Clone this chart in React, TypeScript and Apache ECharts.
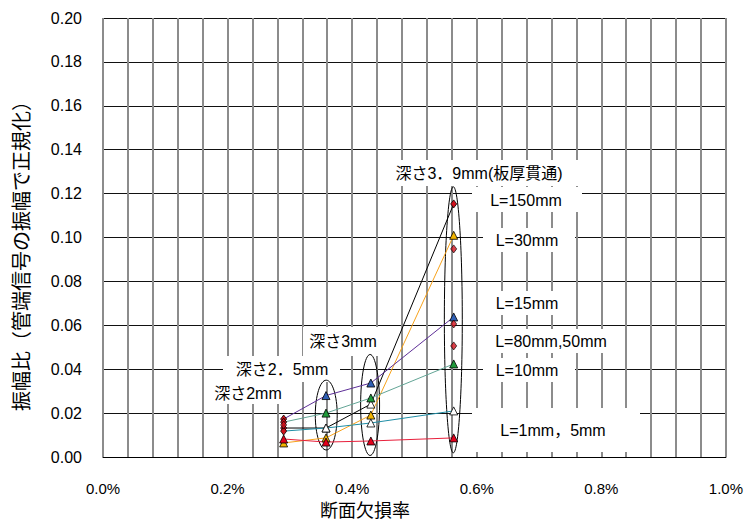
import { useEffect, useRef } from "react";
import * as echarts from "echarts";

// x positions (断面欠損率, %) of the four depth groups
const depthX = [0.29, 0.358, 0.43, 0.563];
// series values (振幅比) per depth group
const l150 = [0.0132, 0.0132, 0.0241, 0.1153];
const l30 = [0.0064, 0.0087, 0.0191, 0.101];
const l15 = [0.0173, 0.028, 0.0337, 0.0638];
const l10 = [0.0159, 0.02, 0.0269, 0.0424];
const l1 = [0.0118, 0.0132, 0.0155, 0.021];
const l5 = [0.0082, 0.0068, 0.0073, 0.0087];
// marker-only points
const extraX = [0.29, 0.563, 0.563, 0.563];
const extraY = [0.0146, 0.0948, 0.0606, 0.0506];
// marker kinds per point
const l150Marks = ["diamond", "white", "white", "diamond"];
const l30Marks = ["orange", "orange", "orange", "orange"];
const l15Marks = ["diamond", "blue", "blue", "blue"];
const l10Marks = ["diamond", "green", "green", "green"];
const l1Marks = ["diamond", "white", "white", "white"];
const l5Marks = ["red", "red", "red", "red"];
// ellipses around depth groups: centre x (%), centre y, radius x (%), radius y
const ellCX = [0.3584, 0.4288, 0.5624];
const ellCY = [0.0191, 0.0237, 0.0625];
const ellRX = [0.0176, 0.0152, 0.0144];
const ellRY = [0.0159, 0.023, 0.0606];
// annotation texts
const labelTexts = [
  "深さ3．9mm(板厚貫通)",
  "L=150mm",
  "L=30mm",
  "L=15mm",
  "L=80mm,50mm",
  "L=10mm",
  "L=1mm，5mm",
  "深さ3mm",
  "深さ2．5mm",
  "深さ2mm",
];
const xName = "断面欠損率";
const yName = "振幅比（管端信号の振幅で正規化）";

const FONT = "'Liberation Sans', 'Noto Sans CJK JP', sans-serif";

// label layout: [centerX, centerY, boxX, boxY, boxW, boxH]
const labelLayout = [
  [479, 173, 378, 160, 202, 26],
  [526, 200, 472, 187, 110, 25],
  [527, 240, 483, 228, 92, 24],
  [527, 303, 483, 291, 92, 24],
  [551, 341, 483, 329, 137, 24],
  [527, 370, 483, 358, 92, 24],
  [553, 430, 472, 408, 168, 44],
  [343, 341, 303, 327, 80, 29],
  [282, 369, 223, 356, 117, 26],
  [248, 393, 205, 382, 87, 22],
];

const markerStyles: Record<string, { symbol: string; size: number[]; color: string }> = {
  diamond: { symbol: "diamond", size: [6, 8], color: "#d0101c" },
  white: { symbol: "triangle", size: [8, 8], color: "#ffffff" },
  orange: { symbol: "triangle", size: [8, 8], color: "#f2b400" },
  blue: { symbol: "triangle", size: [8, 8], color: "#2f5fb4" },
  green: { symbol: "triangle", size: [8, 8], color: "#1f9a3a" },
  red: { symbol: "triangle", size: [8, 8], color: "#e3001b" },
};

function lineSeries(name: string, ys: number[], marks: string[], color: string) {
  return {
    type: "line",
    name,
    data: ys.map((y, i) => {
      const m = markerStyles[marks[i]];
      return {
        value: [depthX[i], y],
        symbol: m.symbol,
        symbolSize: m.size,
        itemStyle: { color: m.color, borderColor: "#000", borderWidth: 0.8 },
      };
    }),
    lineStyle: { color, width: 1 },
    showAllSymbol: true,
    z: 3,
  };
}

function textStyle(text: string, size: number) {
  return {
    text,
    font: `${size}px ${FONT}`,
    fill: "#000",
    textAlign: "center",
    textVerticalAlign: "middle",
    align: "center",
    verticalAlign: "middle",
  };
}

export default function App() {
  const ref = useRef<HTMLDivElement>(null);
  useEffect(() => {
    document.body.style.margin = "0";
    const chart = echarts.init(ref.current!, undefined, { renderer: "svg" });
    const graphics: any[] = [];
    labelTexts.forEach((t, i) => {
      const [cx, cy, bx, by, bw, bh] = labelLayout[i];
      graphics.push({
        type: "rect",
        shape: { x: bx, y: by, width: bw, height: bh },
        style: { fill: "#ffffff" },
        z: 1,
      });
      graphics.push({ type: "text", x: cx, y: cy, style: textStyle(t, 16), z: 1 });
    });
    // axis titles
    graphics.push({ type: "text", x: 365, y: 511, style: textStyle(xName, 18), z: 1 });
    graphics.push({
      type: "text",
      x: 22,
      y: 251,
      rotation: Math.PI / 2,
      style: textStyle(yName, 20),
      z: 1,
    });
    chart.setOption({
      animation: false,
      backgroundColor: "#ffffff",
      grid: { left: 103, right: 18, top: 18, bottom: 66 },
      xAxis: {
        type: "value",
        min: 0,
        max: 1,
        interval: 0.2,
        axisLine: { show: true, onZero: false, lineStyle: { color: "#000", width: 1 } },
        axisTick: { show: false },
        axisLabel: {
          margin: 24,
          fontSize: 15,
          fontFamily: FONT,
          color: "#000",
          formatter: (v: number) => v.toFixed(1) + "%",
        },
        splitLine: { show: true, lineStyle: { color: "#8c8c8c", width: 2 } },
        minorTick: { show: false, splitNumber: 5 },
        minorSplitLine: { show: true, lineStyle: { color: "#8c8c8c", width: 2 } },
      },
      yAxis: {
        type: "value",
        min: 0,
        max: 0.2,
        interval: 0.02,
        axisLine: { show: false },
        axisTick: { show: false },
        axisLabel: {
          margin: 21,
          fontSize: 16,
          fontFamily: FONT,
          color: "#000",
          formatter: (v: number) => v.toFixed(2),
        },
        splitLine: { show: true, lineStyle: { color: "#111", width: 1 } },
      },
      graphic: graphics,
      series: [
        lineSeries("L=150mm", l150, l150Marks, "#000000"),
        lineSeries("L=30mm", l30, l30Marks, "#f7a21b"),
        lineSeries("L=15mm", l15, l15Marks, "#5e2f98"),
        lineSeries("L=10mm", l10, l10Marks, "#63a596"),
        lineSeries("L=1mm", l1, l1Marks, "#1f8ea6"),
        lineSeries("L=5mm", l5, l5Marks, "#e8203c"),
        {
          type: "scatter",
          name: "L=80mm,50mm",
          data: extraX.map((x, i) => [x, extraY[i]]),
          symbol: "diamond",
          symbolSize: [6, 8],
          itemStyle: { color: "#d0101c", borderColor: "#000", borderWidth: 0.8 },
          z: 4,
        },
        {
          type: "custom",
          name: "ellipses",
          data: ellCX.map((x, i) => [x, ellCY[i], ellRX[i], ellRY[i]]),
          encode: { x: 0, y: 1 },
          renderItem: (_p: any, api: any) => {
            const c = api.coord([api.value(0), api.value(1)]);
            const s = api.size([api.value(2), api.value(3)]);
            return {
              type: "ellipse",
              shape: { cx: c[0], cy: c[1], rx: s[0], ry: s[1] },
              style: { fill: "none", stroke: "#000", lineWidth: 1 },
            };
          },
          z: 2,
        },
      ],
    });
    return () => chart.dispose();
  }, []);
  return <div ref={ref} style={{ width: 746, height: 523 }} />;
}
